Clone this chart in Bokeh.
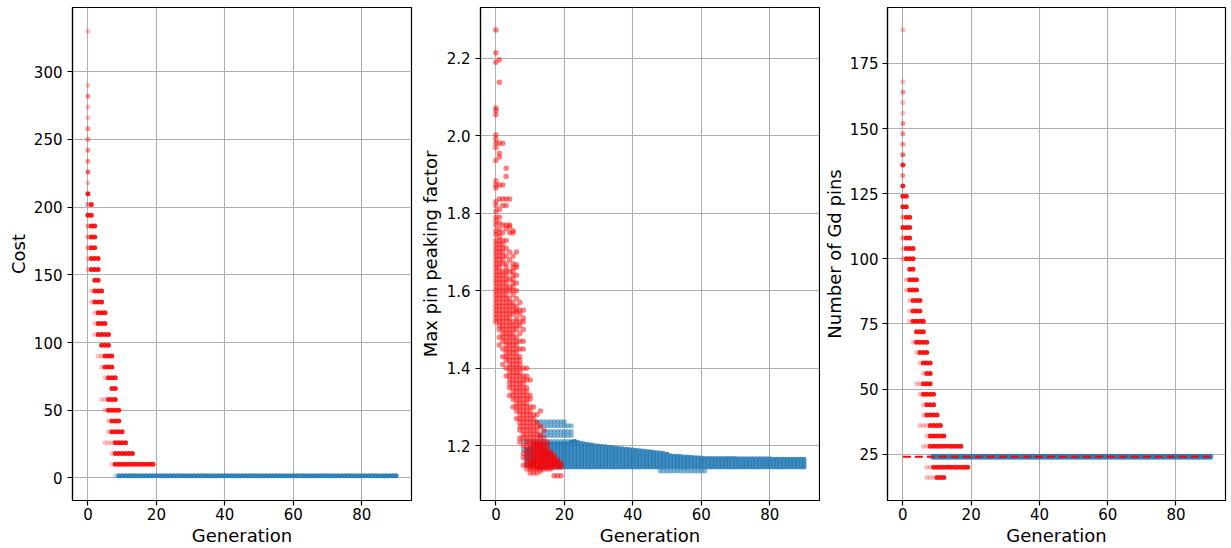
from bokeh.plotting import figure
from bokeh.layouts import row
from bokeh.models import ColumnDataSource, FixedTicker, Range1d, NumeralTickFormatter
from bokeh.embed import file_html
from bokeh.resources import INLINE

# ---------------- data ----------------
x_axis_label = "Generation"
generation_ticks = [0, 20, 40, 60, 80]
final_generation = 90

# Panel 1: Cost (red = population levels, blue = feasible individuals)
cost_label = "Cost"
cost_ticks = [0, 50, 100, 150, 200, 250, 300]
cost_levels = [330, 290, 282, 274, 266, 258, 250, 242, 234, 226, 218, 210,
               202, 194, 186, 178, 170, 162, 154,
               146, 138, 130, 122, 114, 106, 98, 90, 82, 74, 66, 58, 50, 42, 34, 26, 18, 10]
cost_first_gen = [0, 0, 0, 0, 0, 0, 0, 0, 0, 0, 0, 0,
                  0, 0, 0, 0, 0, 0, 0,
                  2, 1, 1, 2, 2, 2, 4, 3, 4, 5, 7, 4, 5, 6, 6, 5, 7, 7]
cost_solid_from = [1, 1, 1, 1, 1, 1, 1, 1, 1, 1, 1, 0,
                   1, 0, 1, 1, 1, 1, 1,
                   2, 2, 2, 3, 3, 3, 4, 5, 5, 6, 7, 6, 6, 7, 7, 8, 8, 8]
cost_last_gen = [0, 0, 0, 0, 0, 0, 0, 0, 0, 0, 0, 0,
                 1, 1, 2, 2, 2, 3, 3,
                 3, 4, 4, 5, 5, 6, 6, 7, 7, 8, 8, 8, 9, 9, 10, 11, 13, 19]
cost_faint_count = [1, 1, 2, 1, 1, 2, 2, 2, 2, 3, 1, 4,
                    2, 2, 2, 2, 2, 1, 1,
                    1, 1, 1, 1, 1, 1, 1, 1, 1, 1, 1, 1, 1, 1, 1, 1, 1, 1]
cost_blue_value = 1.5
blue_first_gen = 8
blue_solid_from = 9

# Panel 2: Max pin peaking factor
pf_label = "Max pin peaking factor"
pf_ticks = [1.2, 1.4, 1.6, 1.8, 2.0, 2.2]
pf_gen00 = [2.273, 2.214, 2.190, 2.072, 2.065, 2.054, 2.002, 1.992, 1.981, 1.970, 1.936, 1.884, 1.873, 1.865,
            1.830, 1.820, 1.805, 1.79, 1.78, 1.77, 1.755, 1.745, 1.73, 1.72, 1.71, 1.70, 1.69, 1.68, 1.67,
            1.66, 1.65, 1.64, 1.63, 1.62, 1.61, 1.60, 1.59, 1.58, 1.57, 1.56, 1.55, 1.54, 1.53, 1.52]
pf_gen01 = [2.196, 2.138, 1.981, 1.955, 1.945, 1.873, 1.837, 1.81, 1.79, 1.775, 1.76, 1.75, 1.74, 1.73,
            1.72, 1.71, 1.70, 1.69, 1.68, 1.67, 1.66, 1.65, 1.64, 1.63, 1.62, 1.61, 1.60, 1.59, 1.58,
            1.57, 1.56, 1.55, 1.54, 1.53, 1.52, 1.51, 1.50, 1.48, 1.46]
pf_gen02 = [1.981, 1.873, 1.837, 1.82, 1.77, 1.75, 1.73, 1.72, 1.71, 1.70, 1.69, 1.68, 1.67, 1.65, 1.64,
            1.63, 1.62, 1.61, 1.60, 1.59, 1.58, 1.57, 1.56, 1.55, 1.54, 1.53, 1.52, 1.51, 1.50, 1.49,
            1.48, 1.47, 1.45, 1.43, 1.41]
pf_gen03 = [1.916, 1.895, 1.837, 1.82, 1.77, 1.76, 1.73, 1.71, 1.69, 1.67, 1.66, 1.65, 1.64, 1.63, 1.62,
            1.61, 1.60, 1.59, 1.58, 1.57, 1.56, 1.55, 1.54, 1.53, 1.52, 1.51, 1.50, 1.49, 1.48, 1.47,
            1.46, 1.45, 1.44, 1.43, 1.42, 1.40, 1.38]
pf_gen04 = [1.837, 1.77, 1.765, 1.75, 1.70, 1.68, 1.65, 1.63, 1.61, 1.60, 1.58, 1.57, 1.56, 1.55, 1.54,
            1.53, 1.52, 1.51, 1.50, 1.49, 1.48, 1.47, 1.46, 1.45, 1.44, 1.43, 1.42, 1.41, 1.40, 1.39,
            1.38, 1.37, 1.36, 1.35, 1.33]
pf_gen05 = [1.755, 1.75, 1.69, 1.67, 1.66, 1.65, 1.64, 1.63, 1.62, 1.61, 1.60, 1.59, 1.57, 1.56, 1.55,
            1.54, 1.52, 1.51, 1.50, 1.49, 1.48, 1.47, 1.46, 1.45, 1.44, 1.43, 1.42, 1.41, 1.40, 1.39,
            1.38, 1.37, 1.36, 1.35, 1.34, 1.33, 1.32, 1.30]
pf_gen06 = [1.70, 1.667, 1.66, 1.64, 1.62, 1.60, 1.58, 1.56, 1.55, 1.545, 1.53, 1.52, 1.51, 1.50, 1.48,
            1.47, 1.46, 1.45, 1.44, 1.43, 1.42, 1.41, 1.40, 1.39, 1.38, 1.37, 1.36, 1.35, 1.34, 1.33,
            1.32, 1.31, 1.30, 1.29, 1.27]
pf_gen07 = [1.57, 1.55, 1.54, 1.52, 1.51, 1.49, 1.47, 1.45, 1.43, 1.42, 1.41, 1.40, 1.39, 1.38, 1.37,
            1.36, 1.35, 1.34, 1.33, 1.32, 1.31, 1.30, 1.29, 1.28, 1.27, 1.26, 1.25, 1.24, 1.22, 1.21]
pf_gen08 = [1.55, 1.53, 1.52, 1.50, 1.47, 1.45, 1.40, 1.38, 1.37, 1.36, 1.35, 1.34, 1.33, 1.32, 1.31,
            1.30, 1.29, 1.28, 1.27, 1.26, 1.25, 1.24, 1.23, 1.22, 1.20, 1.18, 1.17, 1.15]
pf_gen09 = [1.40, 1.38, 1.37, 1.35, 1.34, 1.33, 1.32, 1.31, 1.30, 1.29, 1.28, 1.27, 1.26, 1.25, 1.24,
            1.23, 1.22, 1.21, 1.20, 1.19, 1.18, 1.17, 1.16, 1.15, 1.14]
pf_gen10 = [1.37, 1.33, 1.32, 1.30, 1.29, 1.28, 1.27, 1.26, 1.25, 1.24, 1.23, 1.22, 1.21, 1.20, 1.19,
            1.18, 1.17, 1.16, 1.155, 1.15, 1.145, 1.14, 1.13]
pf_gen11 = [1.30, 1.28, 1.27, 1.26, 1.25, 1.24, 1.23, 1.22, 1.21, 1.205, 1.20, 1.19, 1.185, 1.18, 1.17,
            1.165, 1.16, 1.155, 1.15, 1.145, 1.14, 1.13]
pf_gen12 = [1.28, 1.26, 1.25, 1.24, 1.23, 1.22, 1.21, 1.205, 1.20, 1.195, 1.19, 1.185, 1.18, 1.175,
            1.17, 1.165, 1.16, 1.155, 1.15, 1.145, 1.14, 1.13]
pf_gen13 = [1.29, 1.25, 1.23, 1.22, 1.21, 1.205, 1.20, 1.195, 1.19, 1.185, 1.18, 1.175, 1.17, 1.165,
            1.16, 1.155, 1.15, 1.145, 1.14, 1.135]
pf_gen14 = [1.24, 1.22, 1.21, 1.20, 1.195, 1.19, 1.185, 1.18, 1.175, 1.17, 1.165, 1.16, 1.155, 1.15,
            1.145, 1.14]
pf_gen15 = [1.21, 1.20, 1.19, 1.185, 1.18, 1.175, 1.17, 1.165, 1.16, 1.155, 1.15, 1.145, 1.14]
pf_gen16 = [1.185, 1.18, 1.175, 1.17, 1.165, 1.16, 1.155, 1.15, 1.145, 1.14]
pf_gen17 = [1.175, 1.17, 1.165, 1.16, 1.155, 1.15, 1.145, 1.123]
pf_gen18 = [1.165, 1.16, 1.155, 1.15, 1.145, 1.123]
pf_gen19 = [1.155, 1.15, 1.145, 1.123]

# blue feasible band: generation, lower and upper envelope
pf_blue_gens = list(range(9, 91))
pf_blue_upper = [1.190, 1.195, 1.200,
                 1.205, 1.205, 1.205, 1.205, 1.205, 1.205, 1.205, 1.205, 1.205, 1.205,
                 1.210, 1.212, 1.209, 1.207, 1.205, 1.204, 1.203, 1.201,
                 1.200, 1.199, 1.198, 1.197, 1.196, 1.195, 1.194, 1.193, 1.192, 1.191,
                 1.190, 1.189, 1.188, 1.187, 1.186, 1.185, 1.184, 1.183, 1.182, 1.181,
                 1.179, 1.175, 1.174, 1.174, 1.173, 1.172, 1.172, 1.171, 1.170, 1.170,
                 1.169,
                 1.168, 1.168, 1.168, 1.168, 1.168, 1.168, 1.168, 1.168, 1.168, 1.168,
                 1.167, 1.167, 1.167, 1.167, 1.167, 1.167, 1.167, 1.167, 1.167, 1.167,
                 1.166, 1.166, 1.166, 1.166, 1.166, 1.166, 1.166, 1.166, 1.166, 1.166]
pf_blue_lower = [1.150, 1.150, 1.150] + [1.145] * 79
pf_blue_strip_values = [1.262, 1.252, 1.237, 1.227, 1.211, 1.190, 1.135]
pf_blue_strip_first = [12, 13, 14, 13, 8, 8, 48]
pf_blue_strip_last = [20, 22, 22, 22, 23, 11, 61]

# Panel 3: Number of Gd pins
gd_label = "Number of Gd pins"
gd_ticks = [25, 50, 75, 100, 125, 150, 175]
gd_levels = [188, 168, 164, 160, 156, 152, 148, 144, 140, 136, 132, 128,
             124, 120, 116, 112, 108, 104, 100,
             96, 92, 88, 84, 80, 76, 72, 68, 64, 60, 56, 52, 48, 44, 40, 36, 32, 28,
             20, 16]
gd_first_gen = [0, 0, 0, 0, 0, 0, 0, 0, 0, 0, 0, 0,
                0, 0, 0, 0, 0, 0, 0,
                2, 1, 1, 2, 2, 2, 4, 3, 4, 5, 6, 4, 5, 6, 6, 5, 7, 6,
                7, 7]
gd_solid_from = [1, 1, 1, 1, 1, 1, 1, 1, 1, 0, 1, 0,
                 0, 0, 1, 0, 1, 1, 1,
                 2, 2, 2, 3, 3, 3, 4, 4, 5, 6, 7, 6, 6, 7, 7, 8, 8, 8,
                 9, 10]
gd_last_gen = [0, 0, 0, 0, 0, 0, 0, 0, 0, 0, 0, 0,
               1, 1, 2, 2, 2, 3, 3,
               3, 4, 4, 5, 5, 6, 6, 7, 7, 8, 8, 8, 9, 9, 10, 11, 12, 17,
               19, 12]
gd_faint_count = [1, 1, 2, 1, 1, 2, 2, 2, 3, 4, 2, 4,
                  1, 1, 2, 1, 2, 1, 1,
                  1, 1, 1, 1, 1, 1, 1, 1, 1, 1, 1, 1, 1, 1, 1, 1, 1, 1,
                  1, 1]
gd_blue_value = 24
gd_target = 24

# ---------------- styling ----------------
RED = "#ff0000"
BLUE = "#1f77b4"
BASE_ALPHA = 0.25
SOLID_COUNT = 8
FONT = "DejaVu Sans"
FIG_H = 548


def alpha_of(count):
    return 1 - (1 - BASE_ALPHA) ** count


def expand_rows(levels, first, solid_from, last, faint_count):
    xs, ys, al = [], [], []
    for lv, f, s, l, c in zip(levels, first, solid_from, last, faint_count):
        for g in range(f, l + 1):
            xs.append(g)
            ys.append(lv)
            al.append(alpha_of(c if g < s else SOLID_COUNT))
    return dict(x=xs, y=ys, a=al)


def make_fig(width, left, right, yr, ticks, ylabel, tick_standoff, label_standoff, fmt=None):
    p = figure(width=width, height=FIG_H, x_range=Range1d(-4.5, 94.5), y_range=Range1d(*yr),
               output_backend="svg", toolbar_location=None,
               min_border_left=left, min_border_right=right, min_border_top=7, min_border_bottom=48)
    p.background_fill_color = "white"
    p.border_fill_color = "white"
    p.outline_line_color = "black"
    p.outline_line_width = 1.2
    p.outline_line_alpha = 1
    p.xaxis.ticker = FixedTicker(ticks=generation_ticks)
    p.yaxis.ticker = FixedTicker(ticks=ticks)
    if fmt:
        p.yaxis.formatter = NumeralTickFormatter(format=fmt)
    p.xaxis.axis_label = x_axis_label
    p.yaxis.axis_label = ylabel
    for ax in (p.xaxis[0], p.yaxis[0]):
        ax.axis_line_color = "black"
        ax.axis_line_width = 1.2
        ax.major_tick_out = 5
        ax.major_tick_in = 0
        ax.minor_tick_out = 0
        ax.minor_tick_in = 0
        ax.major_tick_line_color = "black"
        ax.major_tick_line_width = 1.2
        ax.major_label_text_font = FONT
        ax.major_label_text_font_size = "15px"
        ax.major_label_text_color = "black"
        ax.axis_label_text_font = FONT
        ax.axis_label_text_font_size = "18px"
        ax.axis_label_text_font_style = "normal"
        ax.axis_label_text_color = "black"
    p.yaxis.major_label_standoff = tick_standoff
    p.yaxis.axis_label_standoff = label_standoff
    p.xaxis.axis_label_standoff = 2
    p.xaxis.major_label_standoff = 2
    p.xgrid.ticker = FixedTicker(ticks=generation_ticks)
    p.ygrid.ticker = FixedTicker(ticks=ticks)
    for g in (p.xgrid[0], p.ygrid[0]):
        g.grid_line_color = "#b0b0b0"
        g.grid_line_width = 1.1
    return p


MS = 5

# Panel 1
p1 = make_fig(416, 72, 5, (-16.7, 347.5), cost_ticks, cost_label, 5, 2)
blue1 = expand_rows([cost_blue_value], [blue_first_gen], [blue_solid_from], [final_generation], [1])
p1.scatter("x", "y", source=ColumnDataSource(blue1), size=MS, color=BLUE, fill_alpha="a", line_alpha=0)
red1 = expand_rows(cost_levels, cost_first_gen, cost_solid_from, cost_last_gen, cost_faint_count)
p1.scatter("x", "y", source=ColumnDataSource(red1), size=MS, color=RED, fill_alpha="a", line_alpha=0)

# Panel 2
p2 = make_fig(404, 63, 1, (1.059, 2.331), pf_ticks, pf_label, 5, 3, fmt="0.0")
p2.segment(x0=pf_blue_gens, y0=pf_blue_lower, x1=pf_blue_gens, y1=pf_blue_upper,
           line_color=BLUE, line_width=4.6, line_alpha=0.85, line_cap="round")
strip = expand_rows(pf_blue_strip_values, pf_blue_strip_first, [0] * len(pf_blue_strip_values),
                    pf_blue_strip_last, [1] * len(pf_blue_strip_values))
p2.scatter("x", "y", source=ColumnDataSource(strip), size=MS, color=BLUE, fill_alpha=0.55, line_alpha=0)
pf_by_gen = [pf_gen00, pf_gen01, pf_gen02, pf_gen03, pf_gen04, pf_gen05, pf_gen06, pf_gen07, pf_gen08,
             pf_gen09, pf_gen10, pf_gen11, pf_gen12, pf_gen13, pf_gen14, pf_gen15, pf_gen16, pf_gen17,
             pf_gen18, pf_gen19]
rx, ry = [], []
for g, vals in enumerate(pf_by_gen):
    for v in vals:
        rx.append(g)
        ry.append(v)
p2.scatter(rx, ry, size=MS + 0.5, color=RED, fill_alpha=0.5, line_alpha=0)

# Panel 3
p3 = make_fig(411, 66, 6, (7.2, 196.5), gd_ticks, gd_label, 4, 2)
blue3 = expand_rows([gd_blue_value], [blue_first_gen], [blue_solid_from], [final_generation], [1])
p3.scatter("x", "y", source=ColumnDataSource(blue3), size=MS + 1, color=BLUE, fill_alpha="a", line_alpha=0)
red3 = expand_rows(gd_levels, gd_first_gen, gd_solid_from, gd_last_gen, gd_faint_count)
p3.scatter("x", "y", source=ColumnDataSource(red3), size=MS, color=RED, fill_alpha="a", line_alpha=0)
p3.line(x=[0, final_generation], y=[gd_target, gd_target], line_color=RED, line_width=2.2,
        line_dash="8 4")

layout = row(p1, p2, p3)
open("out.html", "w").write(file_html(layout, INLINE))
